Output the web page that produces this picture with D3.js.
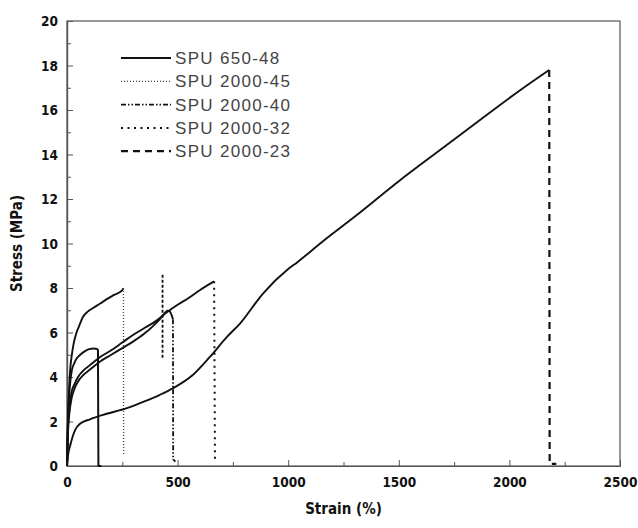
<!DOCTYPE html>
<html>
<head>
<meta charset="utf-8">
<script src="https://cdn.jsdelivr.net/npm/d3@7"></script>
<style>
  html, body { margin: 0; padding: 0; background: #fff; }
  svg { display: block; }
  .tick-label { font-family: "DejaVu Sans Condensed", "DejaVu Sans", sans-serif; font-stretch: condensed; font-weight: bold; font-size: 13.5px; fill: #111; }
  .axis-title { font-family: "DejaVu Sans Condensed", "DejaVu Sans", sans-serif; font-stretch: condensed; font-weight: bold; font-size: 15px; fill: #111; }
  .legend-text { font-family: "Liberation Sans", Arial, sans-serif; font-size: 17px; fill: #444; }
</style>
</head>
<body>
<svg id="chart" width="638" height="528"></svg>
<script>
// ---- data (strain %, stress MPa) ----
const seriesNames = ["SPU 650-48", "SPU 2000-45", "SPU 2000-40", "SPU 2000-32", "SPU 2000-23"];

const spu650_48 = [[0,0],[3,1.5],[6,2.5],[10,3.2],[15,3.8],[22,4.3],[32,4.6],[45,4.85],[60,5.0],[80,5.15],[100,5.25],[120,5.28],[140,5.25],[142,0],[155,0]];
const spu2000_45 = [[0,0],[3,1.6],[6,2.6],[10,3.6],[15,4.4],[22,5.0],[30,5.5],[40,5.9],[55,6.3],[72,6.7],[95,6.95],[118,7.1],[150,7.3],[180,7.5],[215,7.7],[250,7.9],[255,8.0],[256,0.5]];
const spu2000_40 = [[0,0],[3,1.1],[6,1.8],[10,2.3],[20,3.0],[35,3.5],[50,3.8],[75,4.1],[100,4.3],[150,4.7],[200,5.0],[250,5.3],[300,5.6],[350,5.95],[390,6.3],[420,6.6],[440,6.85],[455,6.98],[465,6.95],[472,6.8],[479,6.6],[480,0.3],[490,0.2]];
const spu2000_40_spike = [[432,8.6],[432,4.8]];
const spu2000_32 = [[0,0],[3,1.3],[6,2.0],[10,2.5],[20,3.3],[35,3.7],[50,4.0],[75,4.3],[100,4.5],[150,4.9],[200,5.2],[250,5.55],[300,5.9],[350,6.2],[400,6.5],[450,6.9],[500,7.25],[550,7.55],[600,7.9],[640,8.15],[665,8.3],[669,0.3]];
const spu2000_23 = [[0,0],[5,0.5],[14,0.9],[25,1.3],[36,1.6],[59,1.9],[104,2.1],[163,2.3],[271,2.6],[350,2.9],[420,3.2],[480,3.5],[570,4.1],[646,4.9],[723,5.8],[782,6.4],[886,7.75],[1000,8.85],[1040,9.15],[1157,10.1],[1300,11.2],[1500,12.8],[1700,14.3],[1900,15.8],[2050,16.9],[2180,17.8],[2182,0.1],[2212,0.1]];

const xTicks = [0, 500, 1000, 1500, 2000, 2500];
const yTicks = [0, 2, 4, 6, 8, 10, 12, 14, 16, 18, 20];
const xMinorTicks = [250, 750, 1250, 1750, 2250];
const yMinorTicks = [1, 3, 5, 7, 9, 11, 13, 15, 17, 19];

// ---- layout ----
const svg = d3.select("#chart");
const m = { left: 67, top: 21, right: 18, bottom: 62 };
const W = 638, H = 528;
const x = d3.scaleLinear().domain([0, 2500]).range([m.left, W - m.right]);
const y = d3.scaleLinear().domain([0, 20]).range([H - m.bottom, m.top]);

const styles = [
  { dash: null, width: 2.0, color: "#111" },
  { dash: "1,2", width: 1.3, color: "#444" },
  { dash: "5,2,1.5,2,1.5,2", width: 1.8, color: "#111" },
  { dash: "2,4.5", width: 2.0, color: "#111" },
  { dash: "7,5", width: 2.2, color: "#111" }
];
const allSeries = [spu650_48, spu2000_45, spu2000_40, spu2000_32, spu2000_23];

// frame
svg.append("rect")
  .attr("x", x(0)).attr("y", y(20))
  .attr("width", x(2500) - x(0)).attr("height", y(0) - y(20))
  .attr("fill", "none").attr("stroke", "#555").attr("stroke-width", 1.2);

// axes (ticks inward)
const xAxis = svg.append("g").attr("transform", `translate(0,${y(0)})`)
  .call(d3.axisBottom(x).tickValues(xTicks).tickSizeInner(-6).tickSizeOuter(0).tickFormat(d3.format("d")));
const xMinor = svg.append("g").attr("transform", `translate(0,${y(0)})`)
  .call(d3.axisBottom(x).tickValues(xMinorTicks).tickSizeInner(-4).tickSizeOuter(0).tickFormat(""));
const yAxis = svg.append("g").attr("transform", `translate(${x(0)},0)`)
  .call(d3.axisLeft(y).tickValues(yTicks).tickSizeInner(-6).tickSizeOuter(0).tickFormat(d3.format("d")));
const yMinor = svg.append("g").attr("transform", `translate(${x(0)},0)`)
  .call(d3.axisLeft(y).tickValues(yMinorTicks).tickSizeInner(-4).tickSizeOuter(0).tickFormat(""));

[xAxis, xMinor, yAxis, yMinor].forEach(g => {
  g.select(".domain").attr("stroke", "#555").attr("stroke-width", 1.2);
  g.selectAll(".tick line").attr("stroke", "#555").attr("stroke-width", 1);
});
xAxis.selectAll(".tick text").attr("class", "tick-label").attr("y", 11).attr("dy", "0.71em");
yAxis.selectAll(".tick text").attr("class", "tick-label").attr("x", -9).attr("dy", "0.36em");

// axis titles
svg.append("text").attr("class", "axis-title")
  .attr("x", (x(0) + x(2500)) / 2).attr("y", 514).attr("text-anchor", "middle")
  .text("Strain (%)");
svg.append("text").attr("class", "axis-title")
  .attr("transform", `translate(22,${(y(0) + y(20)) / 2}) rotate(-90)`)
  .attr("text-anchor", "middle")
  .text("Stress (MPa)");

// curves: loading part solid (smoothed), failure drop in the series' line style
const smoothLine = d3.line().x(d => x(d[0])).y(d => y(d[1])).curve(d3.curveMonotoneX);
const line = d3.line().x(d => x(d[0])).y(d => y(d[1]));
const plot = svg.append("g").attr("fill", "none").attr("stroke-linejoin", "round");

allSeries.forEach((data, i) => {
  const s = styles[i];
  // locate the failure drop: first point whose stress is under half the previous one
  let k = 1;
  while (k < data.length && !(data[k][1] < data[k - 1][1] * 0.5 && data[k - 1][1] > 1)) k++;
  const loading = data.slice(0, k);
  const drop = data.slice(k - 1);
  plot.append("path").attr("d", smoothLine(loading))
    .attr("stroke", "#111").attr("stroke-width", 1.9);
  plot.append("path").attr("d", line(drop))
    .attr("stroke", s.color).attr("stroke-width", s.width)
    .attr("stroke-dasharray", s.dash);
});
plot.append("path").attr("d", line(spu2000_40_spike))
  .attr("stroke", "#111").attr("stroke-width", 1.8).attr("stroke-dasharray", "3,2");

// legend
const lg = svg.append("g");
seriesNames.forEach((name, i) => {
  const yy = 58 + i * 23.3;
  const s = styles[i];
  lg.append("line").attr("x1", 121).attr("x2", 171).attr("y1", yy).attr("y2", yy)
    .attr("stroke", s.color).attr("stroke-width", s.width)
    .attr("stroke-dasharray", s.dash);
  lg.append("text").attr("class", "legend-text")
    .attr("x", 175).attr("y", yy).attr("dy", "0.36em")
    .attr("letter-spacing", "1.3px")
    .text(name);
});
</script>
</body>
</html>
